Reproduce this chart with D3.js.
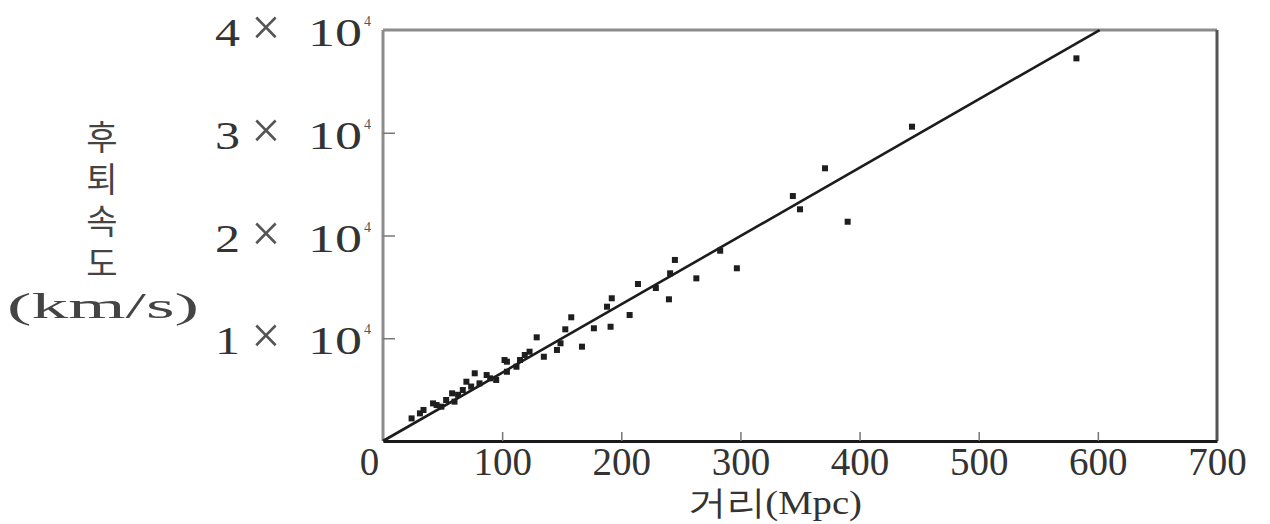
<!DOCTYPE html>
<html>
<head>
<meta charset="utf-8">
<script src="https://cdn.jsdelivr.net/npm/d3@7/dist/d3.min.js"></script>
<style>
  html, body { margin: 0; padding: 0; background: #fff; }
  svg { display: block; }
</style>
</head>
<body>
<svg id="chart" width="1270" height="524"></svg>
<script>
// ---- data ----
const distance = [24, 31, 34, 42, 45, 49, 53, 58, 60, 63, 67, 70, 74, 77, 81, 87, 90, 95,
  102, 104, 104, 112, 115, 119, 123, 129, 135, 146, 149, 153, 158, 167, 177,
  188, 191, 192, 207, 214, 229, 240, 241, 245, 263, 283, 297,
  344, 350, 371, 390, 444, 582];
const velocity = [2200, 2690, 3020, 3660, 3500, 3340, 3990, 4640, 3830, 4500, 4960, 5770, 5300, 6590, 5610, 6420, 6100, 5940,
  7880, 7720, 6740, 7230, 7880, 8370, 8690, 10090, 8200, 8860, 9510, 10870, 12040, 9180, 10970,
  13070, 11120, 13890, 12260, 15280, 14890, 13790, 16320, 17620, 15830, 18520, 16810,
  23840, 22550, 26540, 21340, 30590, 37240];
const hubbleSlope = 66.5;          // km/s per Mpc, fitted line
const fitDistance = [0, 601.5];    // line drawn from origin to the top of the frame
const xTicks = [0, 100, 200, 300, 400, 500, 600, 700];
const yTicks = [10000, 20000, 30000, 40000];
const yTickMantissa = ["1", "2", "3", "4"];
const xTitle = "거리(Mpc)";
const yTitleWord = "후퇴속도";
const yTitleUnit = "(km/s)";

// ---- layout ----
const L = 383, R = 1217, T = 30, B = 441;
const svg = d3.select("#chart");
const x = d3.scaleLinear().domain([0, 700]).range([L, R]);
const y = d3.scaleLinear().domain([0, 40000]).range([B, T]);
const serif = "'Liberation Serif', 'DejaVu Serif', serif";
const kfont = "'Noto Sans CJK KR', sans-serif";

// frame
svg.append("line").attr("x1", L).attr("x2", L).attr("y1", T).attr("y2", B)
  .attr("stroke", "#8c8c8c").attr("stroke-width", 3);
svg.append("line").attr("x1", L).attr("x2", R).attr("y1", T).attr("y2", T)
  .attr("stroke", "#8c8c8c").attr("stroke-width", 3);
svg.append("line").attr("x1", R).attr("x2", R).attr("y1", T).attr("y2", B)
  .attr("stroke", "#555").attr("stroke-width", 3);

// x axis
const xAxis = svg.append("g").attr("transform", `translate(0,${B})`)
  .call(d3.axisBottom(x).tickValues(xTicks).tickSizeInner(-9).tickSizeOuter(0).tickPadding(6)
    .tickFormat(d3.format("d")));
xAxis.select(".domain").attr("stroke", "#1a1a1a").attr("stroke-width", 3);
xAxis.selectAll(".tick line").attr("stroke", "#777").attr("stroke-width", 1.5)
  .filter(d => d === 0 || d === 700).remove();
xAxis.selectAll(".tick text")
  .attr("font-family", serif).attr("font-size", 39).attr("fill", "#333")
  .attr("dy", "0.71em")
  .attr("dx", d => d === 0 ? -14 : 0);

// y axis
const yAxis = svg.append("g").attr("transform", `translate(${L},0)`)
  .call(d3.axisLeft(y).tickValues(yTicks).tickSizeInner(-12).tickSizeOuter(0).tickFormat(""));
yAxis.select(".domain").remove();
yAxis.selectAll(".tick line").attr("stroke", "#777").attr("stroke-width", 1.5)
  .filter(d => d === 40000).remove();

const ylab = svg.append("g");
yTicks.forEach((v, i) => {
  const g = ylab.append("g").attr("transform", `translate(0,${y(v) + 16})`);
  g.append("text").attr("x", L - 168).attr("font-family", serif).attr("font-size", 40)
    .attr("fill", "#333").attr("textLength", 25).attr("lengthAdjust", "spacingAndGlyphs")
    .text(yTickMantissa[i]);
  g.append("text").attr("x", L - 117).attr("y", -1).attr("text-anchor", "middle")
    .attr("font-family", serif).attr("font-size", 52).attr("fill", "#555").text("×");
  g.append("text").attr("x", L - 75).attr("font-family", serif).attr("font-size", 40)
    .attr("fill", "#333").attr("textLength", 54).attr("lengthAdjust", "spacingAndGlyphs").text("10");
  g.append("text").attr("x", L - 19).attr("y", -20)
    .attr("font-family", serif).attr("font-size", 14).attr("fill", "#555").text("4");
});

// fitted line
const line = d3.line().x(d => x(d)).y(d => y(d * hubbleSlope));
svg.append("path").datum(fitDistance).attr("d", line)
  .attr("fill", "none").attr("stroke", "#1c1c1c").attr("stroke-width", 2.6);

// points
const pts = distance.map((d, i) => ({ d, v: velocity[i] }));
svg.append("g").selectAll("rect").data(pts).join("rect")
  .attr("x", p => x(p.d) - 3).attr("y", p => y(p.v) - 3)
  .attr("width", 6).attr("height", 6).attr("fill", "#1e1e1e");

// titles
svg.append("text").attr("x", 775).attr("y", 514).attr("text-anchor", "middle")
  .attr("font-family", serif).attr("font-size", 34).attr("fill", "#333")
  .attr("textLength", 174).attr("lengthAdjust", "spacingAndGlyphs").text(xTitle);

svg.append("text").attr("x", 102).attr("y", 204).attr("text-anchor", "middle")
  .attr("writing-mode", "vertical-rl").style("writing-mode", "vertical-rl")
  .attr("font-family", kfont).attr("font-size", 34).attr("fill", "#444")
  .attr("letter-spacing", 8).text(yTitleWord);
svg.append("text").attr("x", 7).attr("y", 318)
  .attr("font-family", serif).attr("font-size", 36).attr("fill", "#444")
  .attr("textLength", 192).attr("lengthAdjust", "spacingAndGlyphs").text(yTitleUnit);
</script>
</body>
</html>
